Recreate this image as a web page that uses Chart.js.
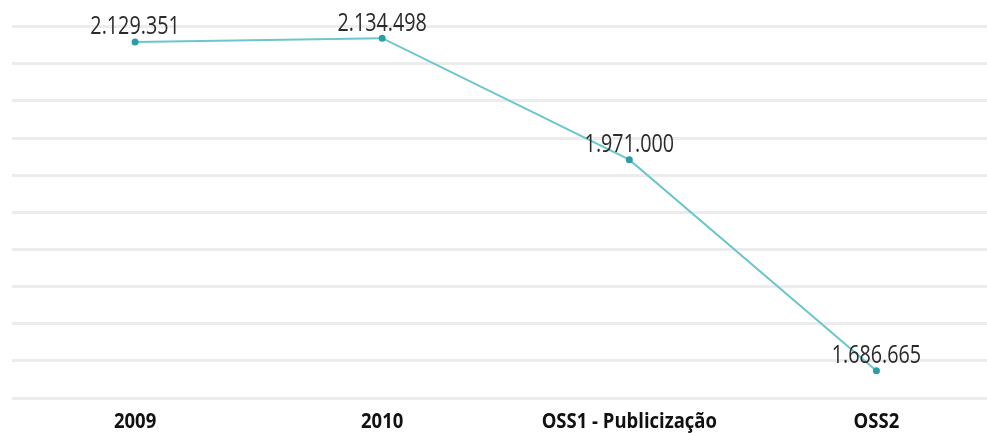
<!DOCTYPE html>
<html>
<head>
<meta charset="utf-8">
<script src="https://cdn.jsdelivr.net/npm/chart.js@4/dist/chart.umd.min.js"></script>
<style>
  html, body { margin: 0; padding: 0; background: #fff; overflow: hidden; }
  canvas { display: block; }
</style>
</head>
<body>
<canvas id="evoChart" width="1006" height="433"></canvas>
<script>
var categorias = ['2009', '2010', 'OSS1 - Publicização', 'OSS2'];
var valores = [2129351, 2134498, 1971000, 1686665];
var eixo_min = 1650000;
var eixo_max = 2150000;
var eixo_passo = 50000;

var fonte = "'Open Sans', 'Noto Sans', sans-serif";

// numbers in pt-BR style: 2.129.351
function fmt(v) {
  return v.toString().replace(/\B(?=(\d{3})+(?!\d))/g, '.');
}

// condensed text: squeeze horizontally around the centre
function textoEstreito(ctx, txt, x, y, sx) {
  ctx.save();
  ctx.translate(x, y);
  ctx.scale(sx, 1);
  ctx.fillText(txt, 0, 0);
  ctx.restore();
}

// value above each point + category names under the axis
var rotulos = {
  id: 'rotulos',
  afterDatasetsDraw: function (chart) {
    var ctx = chart.ctx;
    var meta = chart.getDatasetMeta(0);
    var xs = chart.scales.x;
    ctx.save();
    ctx.textAlign = 'center';
    ctx.textBaseline = 'middle';

    ctx.font = '26px ' + fonte;
    ctx.fillStyle = '#2a2a2a';
    meta.data.forEach(function (pt, i) {
      textoEstreito(ctx, fmt(valores[i]), pt.x, pt.y - 15, 0.76);
    });

    ctx.font = 'bold 22px ' + fonte;
    ctx.fillStyle = '#111';
    categorias.forEach(function (c, i) {
      textoEstreito(ctx, c, xs.getPixelForValue(i), chart.chartArea.bottom + 24, 0.84);
    });
    ctx.restore();
  }
};

var ctx = document.getElementById('evoChart').getContext('2d');
var evoChart = new Chart(ctx, {
  type: 'line',
  data: {
    labels: categorias,
    datasets: [{
      label: 'Total',
      data: valores,
      borderColor: '#6cc6cd',
      borderWidth: 2,
      pointBackgroundColor: '#2a9ea8',
      pointBorderColor: '#2a9ea8',
      pointRadius: 2.5,
      tension: 0
    }]
  },
  options: {
    responsive: false,
    animation: false,
    layout: { padding: { left: 11.5, right: 0.5, top: 26.7, bottom: 35 } },
    plugins: {
      legend: { display: false },
      tooltip: { enabled: false }
    },
    scales: {
      x: {
        offset: true,
        grid: { display: false, drawTicks: false },
        border: { display: false },
        ticks: { display: false }
      },
      y: {
        min: eixo_min,
        max: eixo_max,
        grid: { color: '#ececec', lineWidth: 3, drawTicks: false },
        border: { display: false },
        ticks: { display: false, stepSize: eixo_passo }
      }
    }
  },
  plugins: [rotulos]
});
</script>
</body>
</html>
